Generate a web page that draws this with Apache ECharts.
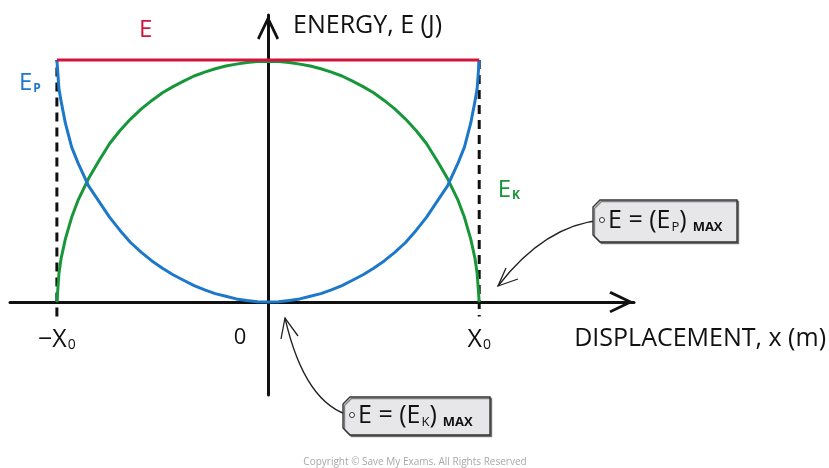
<!DOCTYPE html>
<html>
<head>
<meta charset="utf-8">
<script src="https://cdn.jsdelivr.net/npm/echarts@6/dist/echarts.min.js"></script>
<style>
  html, body { margin: 0; padding: 0; background: #fff; }
  #main { width: 829px; height: 468px; }
</style>
</head>
<body>
<div id="main"></div>
<script>
    // displacement in units of X0, energy in units of E
    var xs = [-1, -0.99, -0.98, -0.96, -0.93, -0.9, -0.85, -0.8, -0.75, -0.7, -0.65, -0.6, -0.55, -0.5, -0.45, -0.4,
              -0.35, -0.3, -0.25, -0.2, -0.15, -0.1, -0.05, 0,
              0.05, 0.1, 0.15, 0.2, 0.25, 0.3, 0.35, 0.4, 0.45, 0.5, 0.55, 0.6, 0.65, 0.7, 0.75, 0.8, 0.85, 0.9,
              0.93, 0.96, 0.98, 0.99, 1];
    var epValues = [1, 0.88, 0.83, 0.74, 0.64, 0.575, 0.48, 0.415, 0.35, 0.295, 0.245, 0.205, 0.17, 0.14, 0.113, 0.09,
                    0.068, 0.05, 0.035, 0.024, 0.013, 0.006, 0.001, 0,
                    0.001, 0.006, 0.013, 0.024, 0.035, 0.05, 0.068, 0.09, 0.113, 0.14, 0.17, 0.205, 0.245, 0.295, 0.35, 0.415, 0.48, 0.575,
                    0.64, 0.74, 0.83, 0.88, 1];
    var ekValues = [0, 0.12, 0.18, 0.26, 0.35, 0.42, 0.51, 0.585, 0.655, 0.71, 0.757, 0.798, 0.833, 0.865, 0.89, 0.913,
                    0.934, 0.95, 0.964, 0.975, 0.983, 0.99, 0.994, 0.995,
                    0.994, 0.99, 0.983, 0.975, 0.964, 0.95, 0.934, 0.913, 0.89, 0.865, 0.833, 0.798, 0.757, 0.71, 0.655, 0.585, 0.51, 0.42,
                    0.35, 0.26, 0.18, 0.12, 0];
    var totalEnergy = 1;
    var amplitude = 1;
    var tickValues = [-1, 0, 1];
    var tickLabels = ['−X{sub|0}', '{zero|0}', 'X{sub|0}'];

    var font = '"Open Sans", Lato, sans-serif';
    var ink = '#111';
    var red = '#d3123d';
    var blue = '#1d78c9';
    var green = '#17973a';

    var pairs = function (values) {
        return xs.map(function (x, i) { return [x, values[i]]; });
    };

    var chevron = 'path://M0,0 L11,23 L8.6,24.5 L0,6.5 L-8.6,24.5 L-11,23 Z';

    var nameLabel = function (color, text, sub, x, y) {
        return {
            coord: [x, y],
            symbol: 'circle',
            symbolSize: 0,
            label: {
                show: true,
                position: 'inside',
                formatter: '{b|' + text + '}' + (sub ? '{s|' + sub + '}' : ''),
                rich: {
                    b: { fontFamily: font, fontSize: 24, color: color, verticalAlign: 'bottom' },
                    s: { fontFamily: font, fontSize: 12, fontWeight: 'bold', color: color, verticalAlign: 'bottom', padding: [0, 0, 0, 1] }
                }
            }
        };
    };

    var tagText = function (sub) {
        return '{a|E = (E}{s|' + sub + '}{a|)}{m|MAX}';
    };
    var tagRich = {
        a: { fontFamily: font, fontSize: 25, fill: ink, verticalAlign: 'bottom' },
        s: { fontFamily: font, fontSize: 13, fill: ink, verticalAlign: 'bottom', padding: [0, 0, 0, 1] },
        m: { fontFamily: font, fontSize: 13, fontWeight: 'bold', fill: ink, verticalAlign: 'bottom', padding: [0, 0, 0, 6] }
    };

    var tag = function (x0, y0, x1, y1, sub) {
        var c = 7;
        var hy = (y0 + y1) / 2 - 1;
        return [
            {
                type: 'polygon',
                shape: { points: [[x0 + c, y0], [x1, y0], [x1, y1], [x0 + c, y1], [x0, y1 - c], [x0, y0 + c]] },
                style: { fill: '#e7e7ea', stroke: '#333', lineWidth: 1.4, shadowColor: 'rgba(0,0,0,0.45)', shadowOffsetX: 1.5, shadowOffsetY: 1.5 }
            },
            {
                type: 'circle',
                shape: { cx: x0 + 9, cy: hy, r: 2.5 },
                style: { fill: '#fff', stroke: '#333', lineWidth: 1 }
            },
            {
                type: 'text',
                x: x0 + 15,
                y: hy + 1,
                style: { text: tagText(sub), rich: tagRich, verticalAlign: 'middle', align: 'left' }
            }
        ];
    };

    var arrow = function (sx, sy, cx, cy, ex, ey, barbs) {
        return [
            {
                type: 'bezierCurve',
                shape: { x1: sx, y1: sy, cpx1: cx, cpy1: cy, x2: ex, y2: ey },
                style: { stroke: '#222', lineWidth: 1.3, fill: null }
            },
            {
                type: 'polyline',
                shape: { points: [barbs[0], [ex, ey], barbs[1]] },
                style: { stroke: '#222', lineWidth: 1.3, fill: null }
            }
        ];
    };

    var chart = echarts.init(document.getElementById('main'), null, { renderer: 'canvas' });

    var option = {
        backgroundColor: '#fff',
        animation: false,
        grid: { left: 10, right: 194, top: 15, bottom: 73, containLabel: false },
        xAxis: {
            type: 'value',
            min: -1.222,
            max: 1.733,
            name: 'DISPLACEMENT, x (m)',
            nameLocation: 'end',
            nameGap: 192,
            nameTextStyle: {
                fontFamily: font, fontSize: 25, color: ink,
                align: 'right', verticalAlign: 'top', padding: [24, 0, 0, 0]
            },
            axisLine: {
                onZero: true,
                symbol: ['none', chevron],
                symbolSize: [22, 25],
                symbolOffset: [0, -12.5],
                lineStyle: { color: ink, width: 3 }
            },
            axisTick: { show: false },
            splitLine: { show: false },
            axisLabel: {
                customValues: tickValues,
                margin: -68,
                formatter: function (v) {
                    return tickLabels[tickValues.indexOf(v)] || '';
                },
                fontFamily: font,
                fontSize: 25,
                color: ink,
                rich: {
                    sub: { fontFamily: font, fontSize: 14, color: ink, verticalAlign: 'bottom', padding: [0, 0, 0, 1] },
                    zero: { fontFamily: font, fontSize: 22, color: ink, padding: [0, 56, 6, 0] }
                }
            }
        },
        yAxis: {
            type: 'value',
            min: -0.384,
            max: 1.186,
            name: 'ENERGY, E (J)',
            nameLocation: 'end',
            nameGap: -11,
            nameTextStyle: {
                fontFamily: font, fontSize: 25, color: ink,
                align: 'left', verticalAlign: 'middle', padding: [0, 0, 0, 25]
            },
            axisLine: {
                onZero: true,
                symbol: ['none', chevron],
                symbolSize: [22, 25],
                symbolOffset: [0, -12.5],
                lineStyle: { color: ink, width: 3 }
            },
            axisTick: { show: false },
            axisLabel: { show: false },
            splitLine: { show: false }
        },
        series: [
            {
                name: 'limits',
                type: 'line',
                symbol: 'none',
                data: [[-amplitude, -0.06], [-amplitude, totalEnergy], null, [amplitude, totalEnergy], [amplitude, -0.06]],
                connectNulls: false,
                lineStyle: { color: ink, width: 3, type: [9, 6] },
                z: 1
            },
            {
                name: 'Ek',
                type: 'line',
                symbol: 'none',
                data: pairs(ekValues),
                lineStyle: { color: green, width: 3, join: 'round' },
                markPoint: { data: [nameLabel(green, 'E', 'K', 1.14, 0.463)] },
                z: 3
            },
            {
                name: 'Ep',
                type: 'line',
                symbol: 'none',
                data: pairs(epValues),
                lineStyle: { color: blue, width: 3, join: 'round' },
                markPoint: { data: [nameLabel(blue, 'E', 'P', -1.128, 0.905)] },
                z: 4
            },
            {
                name: 'E',
                type: 'line',
                symbol: 'none',
                data: [[-amplitude, totalEnergy], [amplitude, totalEnergy]],
                lineStyle: { color: red, width: 3 },
                markPoint: { data: [nameLabel(red, 'E', '', -0.579, 1.124)] },
                z: 5
            }
        ],
        graphic: [].concat(
            arrow(602, 220, 545, 225, 498, 286, [[506, 268], [518, 279]]),
            tag(593, 200, 737, 242, 'P'),
            arrow(352, 416, 305, 405, 285, 318, [[281, 339], [298, 336]]),
            tag(343, 397, 490, 435, 'K'),
            [{
                type: 'text',
                x: 415,
                y: 462,
                style: {
                    text: 'Copyright © Save My Exams. All Rights Reserved',
                    fontFamily: font, fontSize: 10, fill: '#a8a8a8',
                    align: 'center', verticalAlign: 'middle'
                }
            }]
        )
    };

    chart.setOption(option);
</script>
</body>
</html>
